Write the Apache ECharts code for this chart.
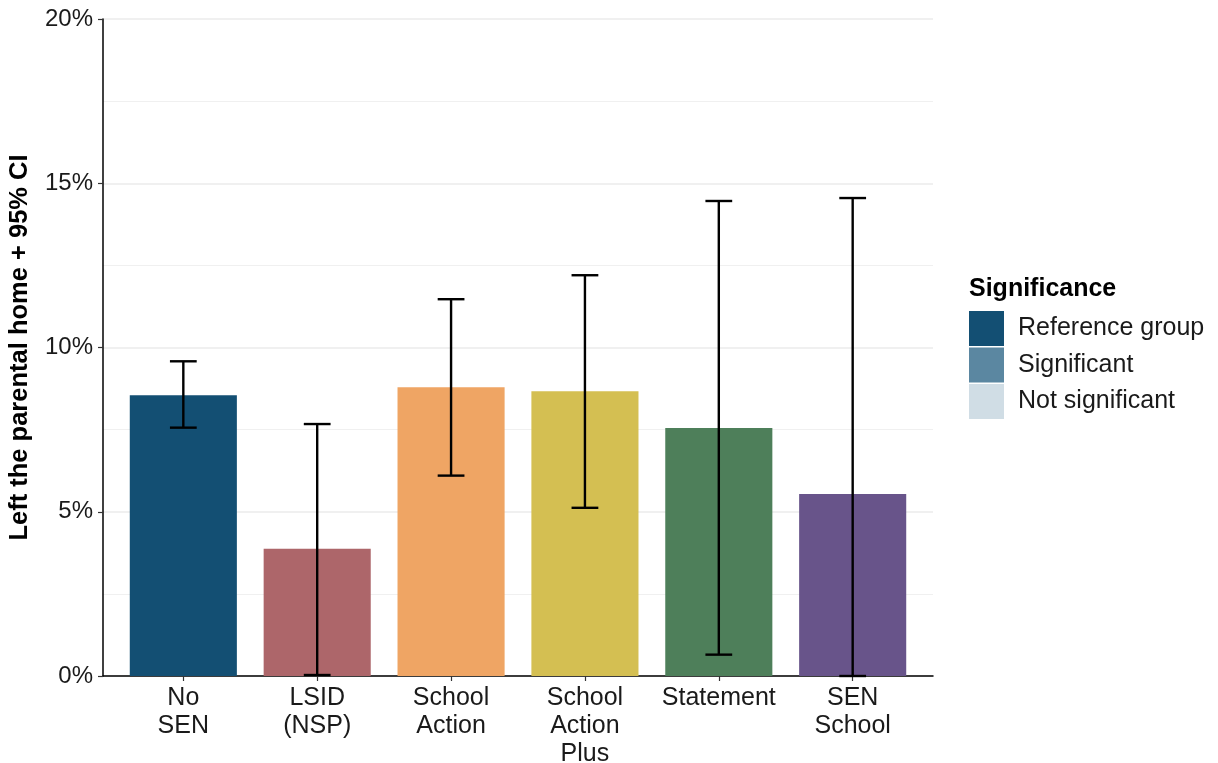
<!DOCTYPE html>
<html>
<head>
<meta charset="utf-8">
<script src="https://cdn.jsdelivr.net/npm/echarts@6/dist/echarts.min.js"></script>
<style>
  html, body { margin: 0; padding: 0; background: #fff; }
  #chart { width: 1218px; height: 763px; }
</style>
</head>
<body>
<div id="chart"></div>
<script>
// Share of young people who had left the parental home, by SEN group, with 95% CI
const categories = ['No\nSEN', 'LSID\n(NSP)', 'School\nAction', 'School\nAction\nPlus', 'Statement', 'SEN\nSchool'];
const estimate = [8.55, 3.87, 8.79, 8.67, 7.55, 5.54];
const ciLower = [7.56, 0.03, 6.10, 5.12, 0.65, 0.00];
const ciUpper = [9.58, 7.67, 11.47, 12.20, 14.46, 14.55];
const barColors = ['#134f73', '#ad666a', '#efa564', '#d4bf52', '#4e7f5a', '#68548a'];
const yTicks = [0, 5, 10, 15, 20];

const significanceLevels = ['Reference group', 'Significant', 'Not significant'];
const significanceColors = ['#134f73', '#5b87a1', '#d0dde5'];

const FONT = "'Liberation Sans', Arial, Helvetica, sans-serif";

const chart = echarts.init(document.getElementById('chart'), null, { renderer: 'canvas' });

// Outer panel spans the full axis extent; inner grid holds the bands (0.6 band padding each side)
const panel = { left: 103, right: 285, top: 19, bottom: 87 };
const bandW = (1218 - panel.left - panel.right) / (categories.length + 0.2);
const inner = {
  left: panel.left + 0.1 * bandW,
  right: panel.right + 0.1 * bandW,
  top: panel.top,
  bottom: panel.bottom
};

const errorBars = categories.map((c, i) => [i, ciLower[i], ciUpper[i]]);

const option = {
  backgroundColor: '#ffffff',
  animation: false,
  textStyle: { fontFamily: FONT },
  legend: {
    orient: 'vertical',
    left: 964,
    top: 306,
    itemWidth: 35,
    itemHeight: 35,
    itemGap: 1.5,
    selectedMode: false,
    data: significanceLevels.map(n => ({ name: n, icon: 'rect' })),
    textStyle: { fontSize: 25, color: '#1a1a1a', fontFamily: FONT, padding: [3, 0, 0, 9] }
  },
  graphic: [{
    type: 'text',
    left: 969,
    top: 277,
    style: { text: 'Significance', font: 'bold 25px ' + FONT, fill: '#000' }
  }],
  grid: [
    { left: panel.left, right: panel.right, top: panel.top, bottom: panel.bottom, containLabel: false, outerBoundsMode: 'none' },
    { left: inner.left, right: inner.right, top: inner.top, bottom: inner.bottom, containLabel: false, outerBoundsMode: 'none' }
  ],
  xAxis: [
    {
      gridIndex: 0, type: 'value', min: 0, max: 1,
      axisLine: { show: true, lineStyle: { color: '#000', width: 1.5 } },
      axisTick: { show: false }, axisLabel: { show: false }, splitLine: { show: false }
    },
    {
      gridIndex: 1, type: 'category', data: categories,
      axisLine: { show: false },
      axisTick: { show: true, alignWithLabel: true, length: 5, lineStyle: { color: '#333', width: 1.2 } },
      axisLabel: { fontSize: 25, color: '#1a1a1a', margin: 8, lineHeight: 28, fontFamily: FONT, interval: 0 },
      splitLine: { show: false }
    }
  ],
  yAxis: [
    {
      gridIndex: 0, type: 'value', min: 0, max: 20, interval: 5,
      name: 'Left the parental home + 95% CI',
      nameLocation: 'middle', nameGap: 70,
      nameTextStyle: { fontSize: 25.5, fontWeight: 'bold', color: '#000', fontFamily: FONT },
      axisLine: { show: true, lineStyle: { color: '#000', width: 1.5 } },
      axisTick: { show: true, length: 5, lineStyle: { color: '#333', width: 1.2 } },
      axisLabel: {
        fontSize: 24, color: '#1a1a1a', margin: 10, fontFamily: FONT,
        formatter: v => (yTicks.includes(v) ? v + '%' : '')
      },
      splitLine: { show: true, lineStyle: { color: '#ebebeb', width: 1.5 } },
      minorTick: { show: false, splitNumber: 2 },
      minorSplitLine: { show: true, lineStyle: { color: '#f0f0f0', width: 1.2 } }
    },
    {
      gridIndex: 1, type: 'value', min: 0, max: 20, interval: 5, show: false,
      splitLine: { show: false }
    }
  ],
  series: [
    {
      type: 'bar',
      xAxisIndex: 1, yAxisIndex: 1,
      barWidth: '80%',
      data: estimate.map((v, i) => ({ value: v, itemStyle: { color: barColors[i] } })),
      z: 2
    },
    {
      type: 'custom',
      xAxisIndex: 1, yAxisIndex: 1,
      data: errorBars,
      z: 5,
      renderItem: function (params, api) {
        const x = api.value(0);
        const lo = api.coord([x, api.value(1)]);
        const hi = api.coord([x, api.value(2)]);
        const half = api.size([1, 0])[0] * 0.1;
        const style = { stroke: '#000', lineWidth: 2.4, fill: null };
        return {
          type: 'group',
          children: [
            { type: 'line', shape: { x1: lo[0], y1: lo[1], x2: hi[0], y2: hi[1] }, style: style },
            { type: 'line', shape: { x1: hi[0] - half, y1: hi[1], x2: hi[0] + half, y2: hi[1] }, style: style },
            { type: 'line', shape: { x1: lo[0] - half, y1: lo[1], x2: lo[0] + half, y2: lo[1] }, style: style }
          ]
        };
      }
    },
    // legend keys for the significance scale
    ...significanceLevels.map((n, i) => ({
      name: n, type: 'line', xAxisIndex: 0, yAxisIndex: 0, data: [],
      itemStyle: { color: significanceColors[i] }, lineStyle: { color: significanceColors[i] }
    }))
  ]
};

chart.setOption(option);
</script>
</body>
</html>
